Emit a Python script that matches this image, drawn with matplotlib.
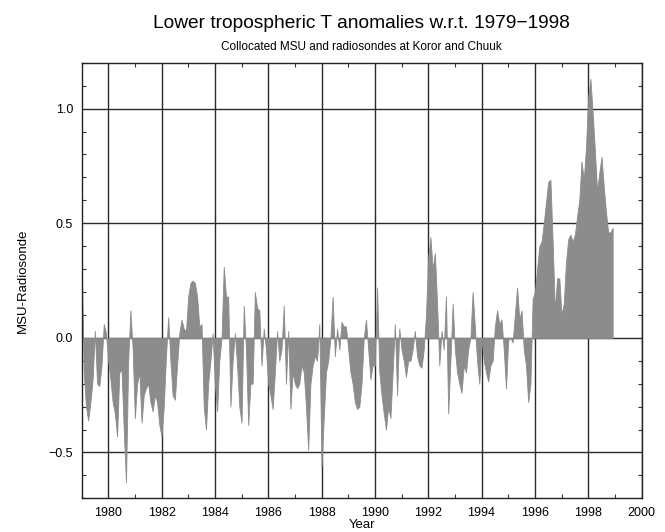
import numpy as np
import matplotlib
matplotlib.use("Agg")
import matplotlib.pyplot as plt
from matplotlib.ticker import MultipleLocator

plt.rcParams['font.family'] = ['Liberation Sans', 'DejaVu Sans']

start_year = 1979
anomaly = [
    # 1979
    0.37, -0.15, -0.30, -0.36, -0.28, -0.18, 0.03, -0.20, -0.21, -0.12, 0.06, 0.02,
    # 1980
    -0.10, -0.18, -0.28, -0.33, -0.43, -0.15, -0.14, -0.40, -0.63, -0.10, 0.12, -0.05,
    # 1981
    -0.35, -0.20, -0.15, -0.37, -0.25, -0.22, -0.20, -0.28, -0.32, -0.25, -0.28, -0.38,
    # 1982
    -0.43, -0.30, -0.08, 0.09, -0.10, -0.25, -0.27, -0.12, 0.02, 0.08, 0.04, 0.03,
    # 1983
    0.18, 0.24, 0.25, 0.24, 0.18, 0.05, 0.06, -0.30, -0.40, -0.20, -0.10, 0.02,
    # 1984
    -0.20, -0.32, -0.10, 0.00, 0.31, 0.18, 0.18, -0.30, -0.10, 0.02, -0.12, -0.30,
    # 1985
    -0.37, 0.14, -0.05, -0.38, -0.20, -0.20, 0.20, 0.13, 0.12, -0.12, 0.04, -0.05,
    # 1986
    -0.20, -0.25, -0.31, -0.15, 0.03, -0.10, -0.05, 0.14, -0.20, 0.03, -0.31, -0.15,
    # 1987
    -0.20, -0.22, -0.20, -0.12, -0.15, -0.30, -0.49, -0.20, -0.12, -0.08, -0.10, 0.06,
    # 1988
    -0.56, -0.35, -0.15, -0.10, 0.00, 0.18, -0.08, 0.04, -0.05, 0.07, 0.05, 0.05,
    # 1989
    -0.05, -0.15, -0.20, -0.28, -0.31, -0.30, -0.20, 0.00, 0.08, -0.05, -0.18, -0.12,
    # 1990
    -0.12, 0.22, -0.15, -0.25, -0.33, -0.40, -0.30, -0.35, -0.15, 0.06, -0.25, 0.04,
    # 1991
    -0.05, -0.10, -0.17, -0.10, -0.10, -0.05, 0.03, -0.08, -0.12, -0.13, -0.05, 0.10,
    # 1992
    0.35, 0.44, 0.30, 0.37, 0.15, -0.12, 0.03, -0.05, 0.18, -0.33, -0.10, 0.15,
    # 1993
    -0.05, -0.15, -0.20, -0.24, -0.12, -0.15, -0.05, 0.00, 0.20, 0.05, -0.10, -0.20,
    # 1994
    0.00, -0.10, -0.15, -0.19, -0.12, -0.10, 0.05, 0.12, 0.06, 0.08, -0.05, -0.22,
    # 1995
    -0.01, 0.00, -0.02, 0.10, 0.22, 0.08, 0.12, -0.05, -0.12, -0.28, -0.20, 0.17,
    # 1996
    0.20, 0.30, 0.40, 0.42, 0.50, 0.59, 0.68, 0.69, 0.42, 0.12, 0.26, 0.26,
    # 1997
    0.10, 0.15, 0.33, 0.43, 0.45, 0.42, 0.45, 0.53, 0.60, 0.77, 0.69, 0.83,
    # 1998
    1.05, 1.13, 0.98, 0.82, 0.64, 0.72, 0.79, 0.66, 0.55, 0.46, 0.46, 0.48,
]
x_ticks = [1980, 1982, 1984, 1986, 1988, 1990, 1992, 1994, 1996, 1998, 2000]
y_ticks = [-0.5, 0.0, 0.5, 1.0]

vals = np.array(anomaly)
years = start_year + np.arange(len(vals)) / 12.0

fig = plt.figure(figsize=(6.65, 5.32), dpi=100)
ax = fig.add_axes([0.1226, 0.0633, 0.8421, 0.8187])

ax.set_axisbelow(True)
ax.grid(True, which='major', color='#2a2a2a', linewidth=1.0)
ax.fill_between(years, 0, vals, color='#8c8c8c', linewidth=0.6, edgecolor='#8c8c8c', zorder=2)

ax.set_xlim(1979, 2000)
ax.set_ylim(-0.7, 1.2)
ax.set_xticks(x_ticks)
ax.set_yticks(y_ticks)
ax.set_yticklabels(['\u22120.5', '0.0', '0.5', '1.0'])
ax.xaxis.set_minor_locator(MultipleLocator(1))
ax.yaxis.set_minor_locator(MultipleLocator(0.1))
ax.tick_params(which='major', length=0, labelsize=9, pad=6)
ax.tick_params(which='minor', direction='in', length=3, width=0.8, color='#333333',
               top=True, right=True, bottom=True, left=True)
for s in ax.spines.values():
    s.set_linewidth(1.0)
    s.set_color('#222222')

ax.set_xlabel('Year', fontsize=9.5, labelpad=0)
ax.set_ylabel('MSU-Radiosonde', fontsize=9.5, labelpad=14)

fig.text(0.5436, 0.955, 'Lower tropospheric T anomalies w.r.t. 1979\u22121998',
         ha='center', va='center', fontsize=13.8)
fig.text(0.5436, 0.911, 'Collocated MSU and radiosondes at Koror and Chuuk',
         ha='center', va='center', fontsize=8.5)

fig.savefig('out.png', dpi=100)
